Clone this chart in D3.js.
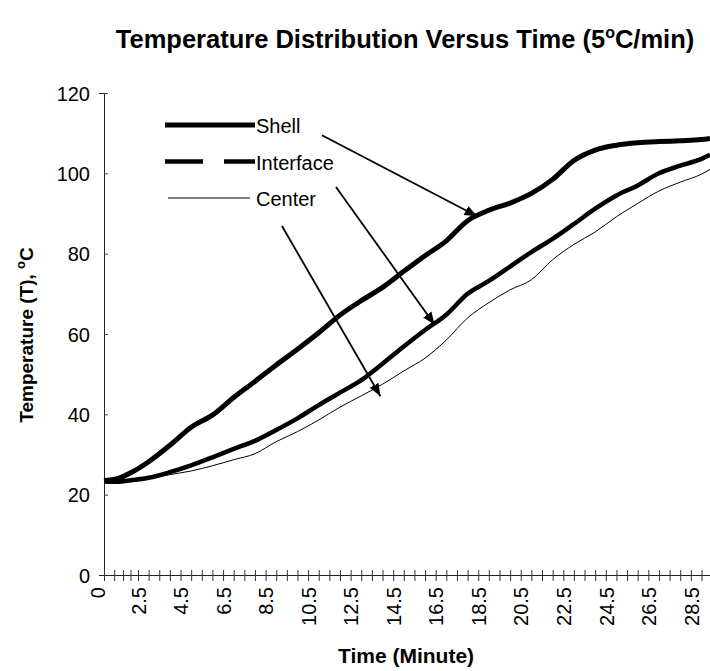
<!DOCTYPE html>
<html>
<head>
<meta charset="utf-8">
<script src="https://cdn.jsdelivr.net/npm/d3@7"></script>
<style>
    body { margin: 0; background: #fff; }
    svg text { font-family: "Liberation Sans", Arial, sans-serif; fill: #000; }
</style>
</head>
<body>
<div id="chart"></div>
<script>
// time points (minutes)
var times = [0, 1, 2, 3, 4, 5, 6, 7, 8, 9, 10, 11, 12, 13, 14, 15, 16, 17, 18, 19,
    20, 21, 22, 23, 24, 25, 26, 27, 28, 29, 29.4];

// temperatures (deg C) per series
var shell = [23.5, 24.0, 25.5, 28.2, 32.3, 36.8, 39.8, 44.2, 48.2, 52.3, 56.2, 60.3, 64.7, 68.3, 71.6,
    75.6, 79.5, 83.2, 88.2, 90.8, 92.6, 95.0, 98.5, 103.2, 105.8, 107.0, 107.6, 107.9, 108.1, 108.4, 108.7];
var iface = [23.3, 23.2, 23.6, 24.2, 25.6, 27.3, 29.3, 31.4, 33.4, 36.1, 39.0, 42.3, 45.4, 48.5, 52.6,
    56.9, 61.0, 64.8, 70.0, 73.2, 76.8, 80.4, 83.7, 87.4, 91.2, 94.5, 97.0, 100.0, 101.9, 103.6, 104.6];
var center = [23.3, 23.2, 23.5, 24.0, 25.0, 25.9, 27.2, 28.7, 30.2, 33.2, 35.7, 38.6, 41.8, 44.6, 47.5,
    50.8, 54.0, 58.5, 64.0, 67.8, 71.0, 73.5, 78.5, 82.3, 85.4, 89.2, 92.5, 95.6, 97.8, 99.8, 101.0];

var seriesNames = ['Shell', 'Interface', 'Center'];

// category labels shown under the x axis
var xLabels = ['0', '2.5', '4.5', '6.5', '8.5', '10.5', '12.5', '14.5', '16.5', '18.5', '20.5',
    '22.5', '24.5', '26.5', '28.5'];
var yTicks = [0, 20, 40, 60, 80, 100, 120];

// arrows: [fromTime, fromTemp, toTime, toTemp]
var arrows = [
    [11.15, 109.5, 18.45, 89.3],
    [11.81, 96.6, 16.45, 62.3],
    [9.27, 86.9, 13.9, 44.5]
];

var width = 710, height = 671;

var svg = d3.select('#chart')
    .append('svg')
    .attr('width', width)
    .attr('height', height);

// x is a category-like axis: first labelled gap is narrower than the rest
var x = d3.scaleLinear()
    .domain([0, 2.5, 29.4])
    .range([104, 138, 710]);

var y = d3.scaleLinear()
    .domain([0, 120])
    .range([575, 93]);

/**
 * Title
 */
var title = svg.append('text')
    .attr('x', 405)
    .attr('y', 48)
    .attr('text-anchor', 'middle')
    .style('font-size', '25.5px')
    .style('font-weight', 'bold');
title.append('tspan').text('Temperature Distribution Versus Time (5');
title.append('tspan').attr('dy', -10).style('font-size', '16px').text('o');
title.append('tspan').attr('dy', 10).text('C/min)');

/**
 * Y axis with cross ticks
 */
var yAxis = svg.append('g')
    .attr('transform', 'translate(104,0)')
    .call(d3.axisLeft(y).tickValues(yTicks).tickSize(5).tickPadding(9));
yAxis.select('.domain').attr('stroke', '#222');
yAxis.selectAll('.tick line').attr('x2', 4).attr('stroke', '#444');
yAxis.selectAll('.tick text').style('font-size', '20px').attr('dy', '0.36em');

/**
 * X axis, tick every half minute after 2.5, labels only at the listed categories
 */
var tickTimes = [0, 0.75, 1.4, 1.95].concat(d3.range(2.5, 29.5, 0.5));
var labelled = {};
xLabels.forEach(function (l) { labelled[+l] = l; });

var xAxis = svg.append('g')
    .attr('transform', 'translate(0,575)')
    .call(d3.axisBottom(x)
        .tickValues(tickTimes)
        .tickSize(6)
        .tickFormat(function (d) { return labelled[d] !== undefined ? labelled[d] : ''; }));
xAxis.select('.domain').attr('stroke', '#222');
xAxis.selectAll('.tick line').attr('y1', -5).attr('stroke', '#333');
xAxis.selectAll('.tick text')
    .style('font-size', '20px')
    .attr('text-anchor', 'end')
    .attr('transform', 'rotate(-90)')
    .attr('x', -12)
    .attr('y', function (d) { return d === 0 ? -7 : 0; })
    .attr('dy', '0.36em');

/**
 * Axis titles
 */
svg.append('text')
    .attr('x', 406)
    .attr('y', 663)
    .attr('text-anchor', 'middle')
    .style('font-size', '21px')
    .style('font-weight', 'bold')
    .text('Time (Minute)');

var yTitle = svg.append('text')
    .attr('transform', 'translate(33,335) rotate(-90)')
    .attr('text-anchor', 'middle')
    .style('font-size', '19px')
    .style('font-weight', 'bold');
yTitle.append('tspan').text('Temperature (T), ');
yTitle.append('tspan').attr('dy', -8).style('font-size', '13px').text('o');
yTitle.append('tspan').attr('dy', 8).text('C');

/**
 * Curves
 */
var line = d3.line()
    .x(function (d) { return x(d[0]); })
    .y(function (d) { return y(d[1]); })
    .curve(d3.curveMonotoneX);

var seriesData = [shell, iface, center].map(function (vals) {
    return vals.map(function (v, i) { return [times[i], v]; });
});
var strokeWidths = [5, 4.5, 1];

svg.selectAll('path.series')
    .data(seriesData)
    .enter()
    .append('path')
    .attr('class', 'series')
    .attr('d', line)
    .attr('fill', 'none')
    .attr('stroke', '#000')
    .attr('stroke-linejoin', 'round')
    .attr('stroke-width', function (d, i) { return strokeWidths[i]; });

/**
 * Legend (no frame)
 */
var legend = svg.selectAll('.legend')
    .data(seriesNames)
    .enter()
    .append('g')
    .attr('class', 'legend')
    .attr('transform', function (d, i) { return 'translate(165,' + (125 + i * 36.5) + ')'; });

legend.append('line')
    .attr('x1', function (d, i) { return i === 2 ? 3 : 0; })
    .attr('x2', function (d, i) { return i === 2 ? 85 : 90; })
    .attr('stroke', '#000')
    .attr('stroke-width', function (d, i) { return strokeWidths[i]; })
    .attr('stroke-dasharray', function (d, i) { return i === 1 ? '38,21' : null; });

legend.append('text')
    .attr('x', 91)
    .attr('y', 8)
    .style('font-size', '20px')
    .text(function (d) { return d; });

/**
 * Annotation arrows
 */
svg.append('defs').append('marker')
    .attr('id', 'head')
    .attr('viewBox', '0 0 10 10')
    .attr('refX', 10)
    .attr('refY', 5)
    .attr('markerWidth', 7)
    .attr('markerHeight', 7)
    .attr('markerUnits', 'strokeWidth')
    .attr('orient', 'auto')
    .append('path')
    .attr('d', 'M0,1 L10,5 L0,9 Z')
    .attr('fill', '#000');

svg.selectAll('line.arrow')
    .data(arrows)
    .enter()
    .append('line')
    .attr('class', 'arrow')
    .attr('x1', function (d) { return x(d[0]); })
    .attr('y1', function (d) { return y(d[1]); })
    .attr('x2', function (d) { return x(d[2]); })
    .attr('y2', function (d) { return y(d[3]); })
    .attr('stroke', '#000')
    .attr('stroke-width', 1.8)
    .attr('marker-end', 'url(#head)');
</script>
</body>
</html>
